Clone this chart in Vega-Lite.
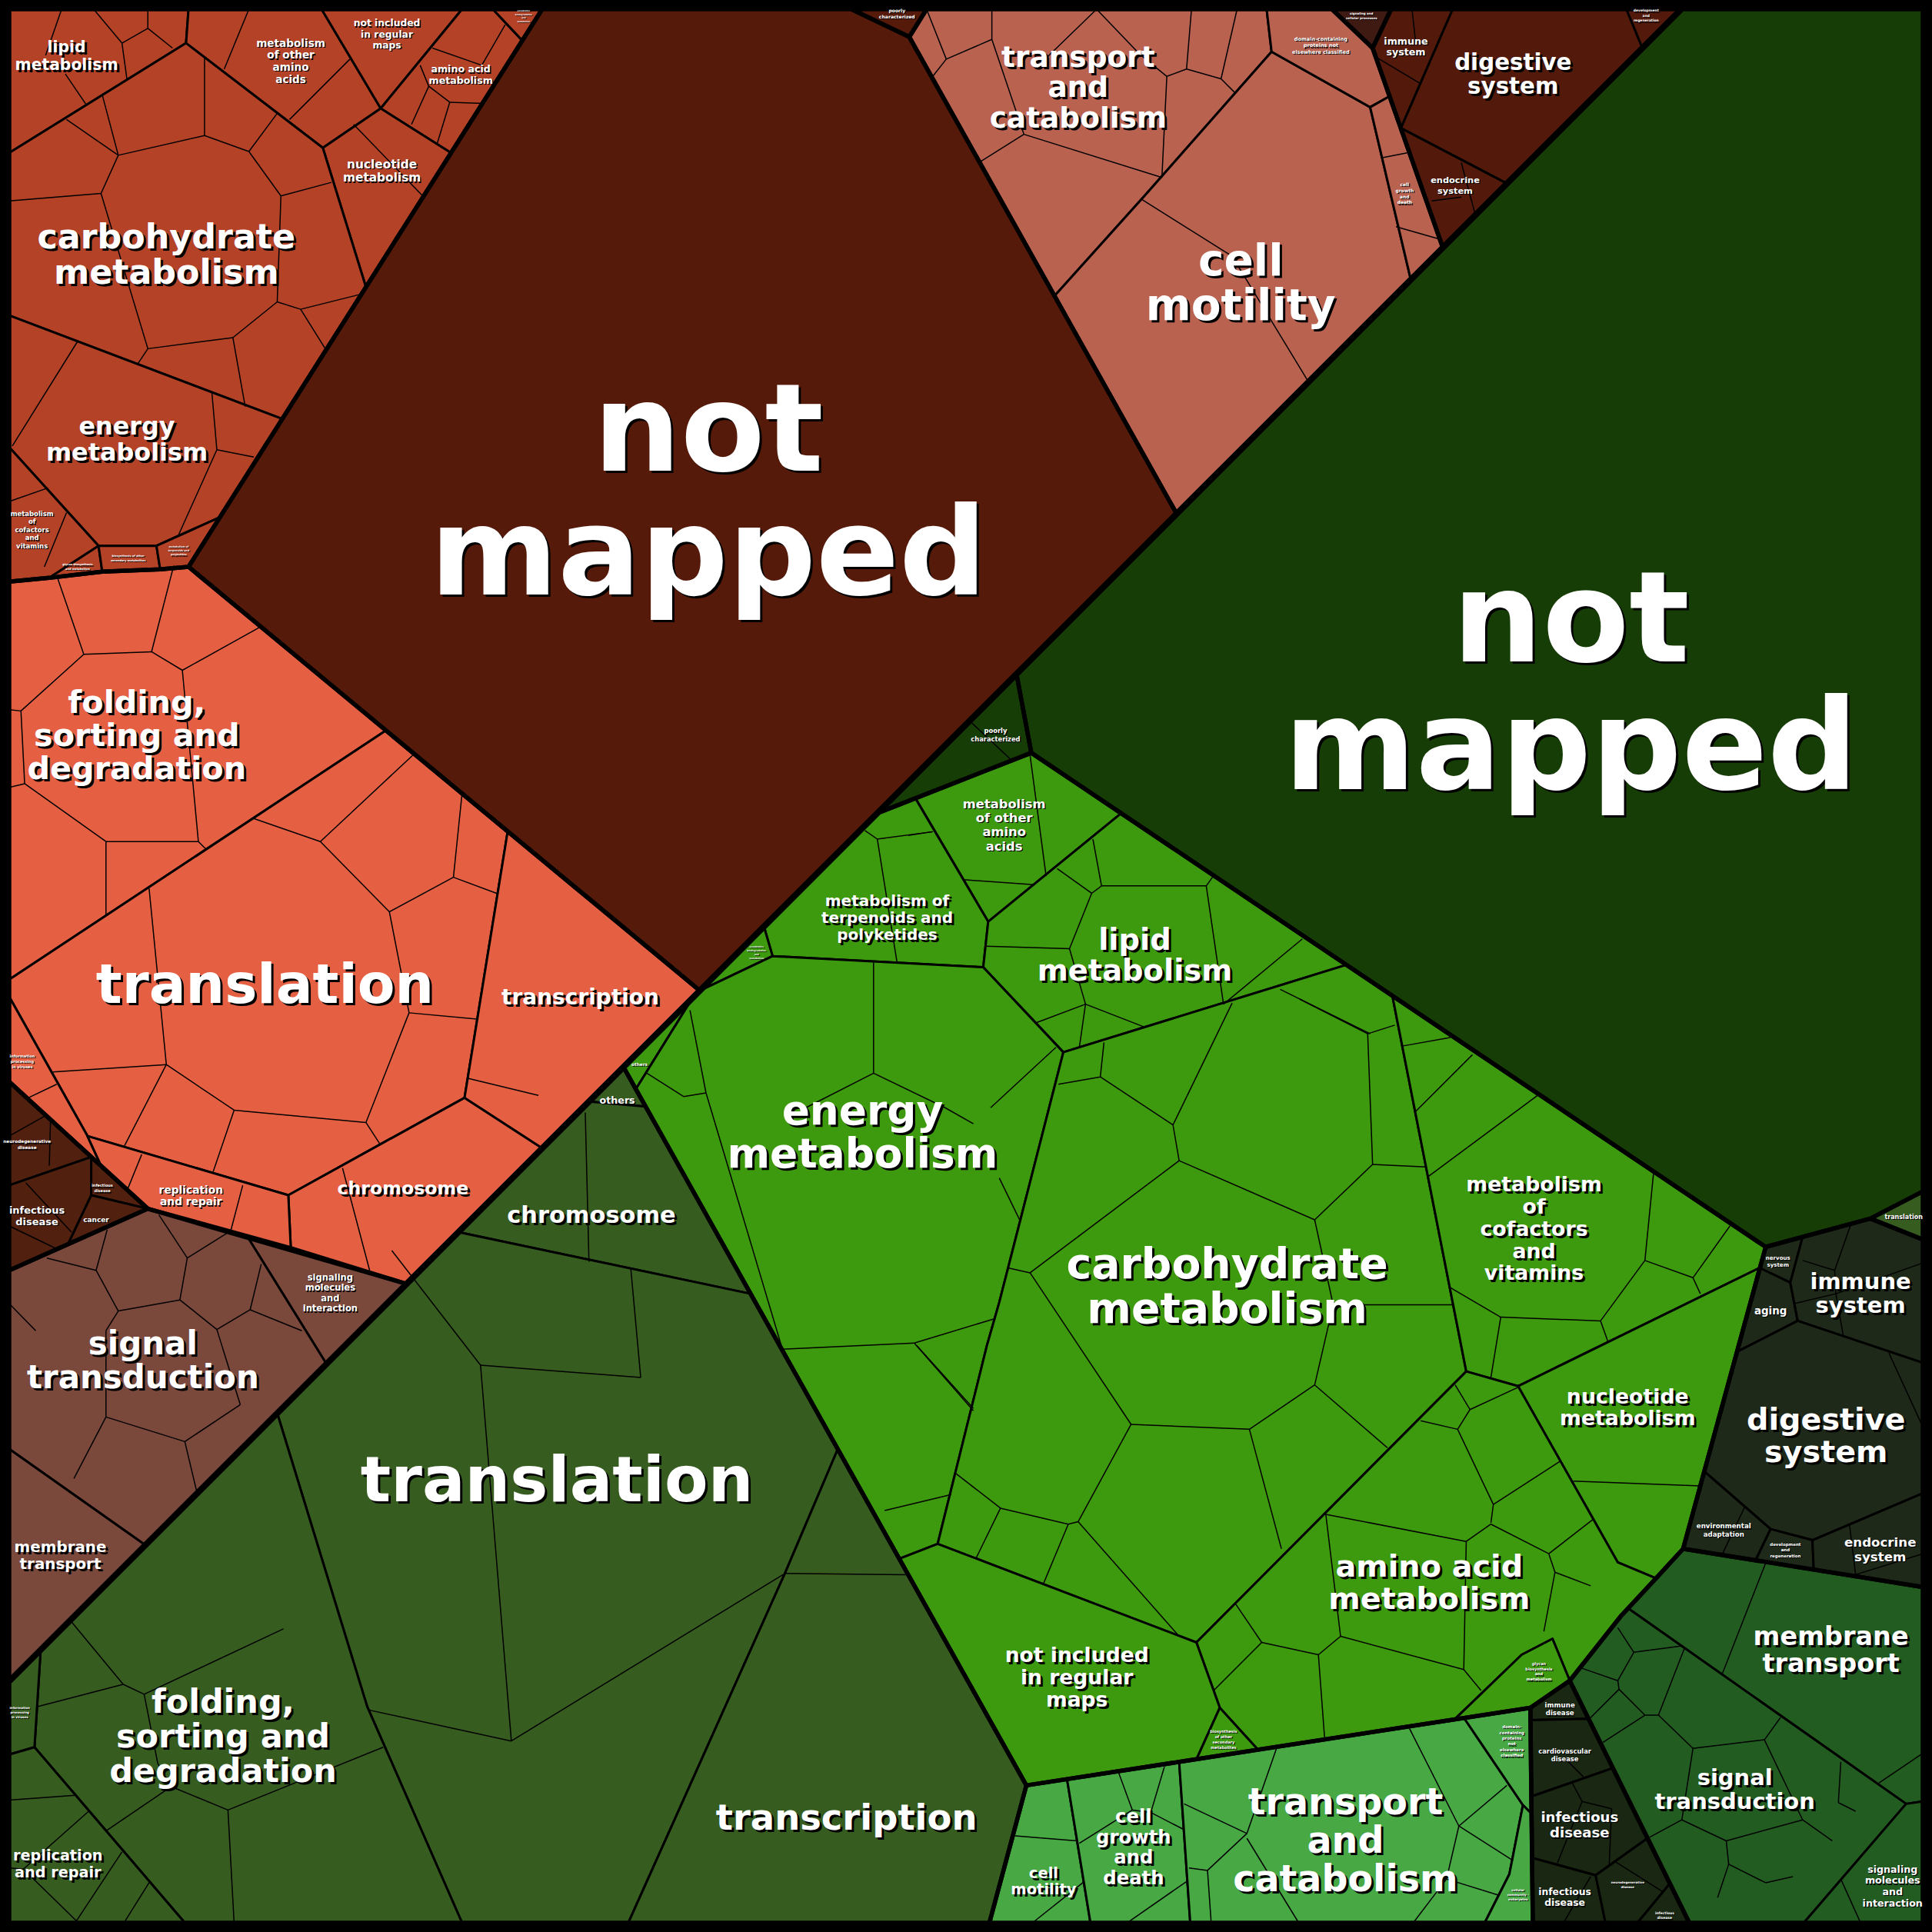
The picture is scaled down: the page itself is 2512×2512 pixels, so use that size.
{
"$schema":"https://vega.github.io/schema/vega-lite/v6.json",
"width":2512,"height":2512,
"autosize":{"type":"fit","contains":"padding"},
"padding":0,
"background":"#000000",
"config":{"view":{"stroke":null}},
"datasets":{
"cells":[
{"id":"a_lipid","group":"A metabolism","x":[7.5,153,151,7.5],"y":[7.5,7.5,35,124]},
{"id":"a_oaa","group":"A metabolism","x":[153,261,309,262,151],"y":[7.5,7.5,88,120,35]},
{"id":"a_notinc","group":"A metabolism","x":[261,375,309],"y":[7.5,7.5,88]},
{"id":"a_aa","group":"A metabolism","x":[375,400,424,366,309],"y":[7.5,7.5,33,124,88]},
{"id":"a_xeno","group":"A metabolism","x":[400,440,424],"y":[7.5,7.5,33]},
{"id":"a_nucl","group":"A metabolism","x":[262,309,366,297],"y":[120,88,124,233]},
{"id":"a_carb","group":"A metabolism","x":[7.5,151,262,297,229,7.5],"y":[124,35,120,233,340,256]},
{"id":"a_energy","group":"A metabolism","x":[7.5,229,178,127,80,7.5],"y":[256,340,420,443,443,363]},
{"id":"a_cof","group":"A metabolism","x":[7.5,80,40,7.5],"y":[363,443,469,472]},
{"id":"a_glycan","group":"A metabolism","x":[40,80,83],"y":[469,443,464]},
{"id":"a_sec","group":"A metabolism","x":[80,127,130,83],"y":[443,443,462,464]},
{"id":"a_terp","group":"A metabolism","x":[127,178,153,130],"y":[443,420,460,462]},
{"id":"a_notmapped","group":"A not mapped","x":[440,691,738,955,568,153],"y":[7.5,7.5,30,417,804,460]},
{"id":"a_poor","group":"A poorly characterized","x":[691,752,738],"y":[7.5,7.5,30]},
{"id":"a_transport","group":"A cellular processes","x":[752,1028,1032,928,856,738],"y":[7.5,7.5,42,160,240,30]},
{"id":"a_motility","group":"A cellular processes","x":[1032,1112,1145,955,856,928],"y":[42,87,227,417,240,160]},
{"id":"a_domain","group":"A cellular processes","x":[1028,1081,1114,1128,1112,1032],"y":[7.5,7.5,39,78,87,42]},
{"id":"a_growth","group":"A cellular processes","x":[1112,1128,1171,1145],"y":[87,78,201,227]},
{"id":"a_sig","group":"A signaling and cellular processes","x":[1081,1129,1114],"y":[7.5,7.5,39]},
{"id":"a_immune","group":"A organismal systems","x":[1114,1129,1179,1137],"y":[39,7.5,7.5,104]},
{"id":"a_digest","group":"A organismal systems","x":[1179,1320,1333,1223,1137],"y":[7.5,7.5,39,149,104]},
{"id":"a_dev","group":"A organismal systems","x":[1320,1364.5,1333],"y":[7.5,7.5,39]},
{"id":"a_endo","group":"A organismal systems","x":[1137,1223,1171],"y":[104,149,201]},
{"id":"a_fold","group":"A genetic information processing","x":[7.5,40,83,130,153,313,7.5],"y":[472,469,464,462,460,593,795]},
{"id":"a_transl","group":"A genetic information processing","x":[7.5,313,412,377,234,71,7.5],"y":[795,593,675,891,970,922,809]},
{"id":"a_viruses","group":"A genetic information processing","x":[7.5,71,82,7.5],"y":[809,922,946,878]},
{"id":"a_transc","group":"A genetic information processing","x":[412,568,440,377],"y":[675,804,932,891]},
{"id":"a_chrom","group":"A genetic information processing","x":[234,377,440,330,236],"y":[970,891,932,1042,1013]},
{"id":"a_repl","group":"A genetic information processing","x":[71,234,236,120,82],"y":[922,970,1013,981,946]},
{"id":"a_neuro","group":"A human diseases","x":[7.5,74,7.5],"y":[878,939,962]},
{"id":"a_inf_s","group":"A human diseases","x":[74,120,74],"y":[939,981,970]},
{"id":"a_cancer","group":"A human diseases","x":[74,120,55],"y":[970,981,1010]},
{"id":"a_inf","group":"A human diseases","x":[7.5,74,74,55,7.5],"y":[962,939,970,1010,1031]},
{"id":"a_sigmol","group":"A environmental information processing","x":[201,330,265],"y":[1004,1042,1107]},
{"id":"a_signal","group":"A environmental information processing","x":[7.5,120,201,265,118,7.5],"y":[1031,981,1004,1107,1254,1176]},
{"id":"a_membrane","group":"A environmental information processing","x":[7.5,118,7.5],"y":[1176,1254,1364.5]},
{"id":"b_notmapped","group":"B not mapped","x":[1364.5,1560.5,1560.5,1518,1433,837,825],"y":[7.5,7.5,967,989,1012,611,547]},
{"id":"b_poor","group":"B poorly characterized","x":[825,837,712],"y":[547,611,660]},
{"id":"b_transl_s","group":"B genetic information processing","x":[1518,1560.5,1560.5],"y":[989,967,1006]},
{"id":"b_oaa","group":"B metabolism","x":[743,837,910,802],"y":[648,611,660,748]},
{"id":"b_terp","group":"B metabolism","x":[712,743,802,798,627,620],"y":[660,648,748,785,776,752]},
{"id":"b_xeno","group":"B metabolism","x":[620,627,568],"y":[752,776,804]},
{"id":"b_others","group":"B metabolism","x":[562,506,516],"y":[810,866,884]},
{"id":"b_lipid","group":"B metabolism","x":[802,910,1093,863,798],"y":[748,660,783,854,785]},
{"id":"b_energy","group":"B metabolism","x":[568,627,798,863,811,801,761,730,516,562],"y":[804,776,785,854,1057,1092,1253,1265,884,810]},
{"id":"b_carb","group":"B metabolism","x":[863,1093,1130,1190,971,761,801,811],"y":[854,783,808,1113,1333,1253,1092,1057]},
{"id":"b_cof","group":"B metabolism","x":[1130,1433,1428,1232,1190],"y":[808,1012,1029,1125,1113]},
{"id":"b_nucl","group":"B metabolism","x":[1232,1428,1366,1344,1313],"y":[1125,1029,1257,1281,1268]},
{"id":"b_aa","group":"B metabolism","x":[971,1190,1232,1313,1344,1316,1274,1260,1235,1180,1021,990],"y":[1333,1113,1125,1268,1281,1311,1364,1330,1343,1396,1420,1386]},
{"id":"b_notinc","group":"B metabolism","x":[730,761,971,990,971,833],"y":[1265,1253,1333,1386,1428,1449]},
{"id":"b_sec","group":"B metabolism","x":[990,1021,971],"y":[1386,1420,1428]},
{"id":"b_glycan","group":"B metabolism","x":[1235,1260,1274,1242,1180],"y":[1343,1330,1364,1386,1396]},
{"id":"b_others_o","group":"B genetic information processing","x":[478,506,524],"y":[894,866,898]},
{"id":"b_chrom","group":"B genetic information processing","x":[478,524,609,372],"y":[894,898,1050,1000]},
{"id":"b_transl","group":"B genetic information processing","x":[372,609,680,637,510,375,298,225],"y":[1000,1050,1176,1277,1560.5,1560.5,1385,1147]},
{"id":"b_transc","group":"B genetic information processing","x":[680,833,803,510,637],"y":[1176,1449,1560.5,1560.5,1277]},
{"id":"b_fold","group":"B genetic information processing","x":[33,225,298,375,150,28],"y":[1339,1147,1385,1560.5,1560.5,1418]},
{"id":"b_viruses","group":"B genetic information processing","x":[7.5,33,28,7.5],"y":[1364.5,1339,1418,1424]},
{"id":"b_repl","group":"B genetic information processing","x":[7.5,28,150,7.5],"y":[1424,1418,1560.5,1560.5]},
{"id":"b_motility","group":"B cellular processes","x":[833,866,885,803],"y":[1449,1444,1560.5,1560.5]},
{"id":"b_growth","group":"B cellular processes","x":[866,957,966,885],"y":[1444,1430,1560.5,1560.5]},
{"id":"b_transport","group":"B cellular processes","x":[957,1188,1236,1225,1205,966],"y":[1430,1394,1465,1521,1560.5,1560.5]},
{"id":"b_domain","group":"B cellular processes","x":[1188,1242,1243,1236],"y":[1394,1386,1472,1465]},
{"id":"b_community","group":"B cellular processes","x":[1236,1243,1244,1205,1225],"y":[1465,1472,1560.5,1560.5,1521]},
{"id":"b_immune_d","group":"B human diseases","x":[1242,1274,1289,1243],"y":[1386,1364,1395,1396]},
{"id":"b_cardio","group":"B human diseases","x":[1243,1289,1309,1243],"y":[1396,1395,1435,1458]},
{"id":"b_inf1","group":"B human diseases","x":[1243,1309,1337,1295,1244],"y":[1458,1435,1492,1522,1508]},
{"id":"b_inf2","group":"B human diseases","x":[1244,1295,1303,1244],"y":[1508,1522,1560.5,1560.5]},
{"id":"b_neuro","group":"B human diseases","x":[1295,1337,1355,1329,1303],"y":[1522,1492,1529,1560.5,1560.5]},
{"id":"b_inf3","group":"B human diseases","x":[1355,1371,1329],"y":[1529,1560.5,1560.5]},
{"id":"b_nervous","group":"B organismal systems","x":[1433,1463,1453,1428],"y":[1012,1004,1041,1029]},
{"id":"b_aging","group":"B organismal systems","x":[1428,1453,1459,1410],"y":[1029,1041,1072,1097]},
{"id":"b_immune","group":"B organismal systems","x":[1463,1518,1560.5,1560.5,1459,1453],"y":[1004,989,1006,1106,1072,1041]},
{"id":"b_digest","group":"B organismal systems","x":[1410,1459,1560.5,1560.5,1471,1437,1383],"y":[1097,1072,1106,1212,1250,1241,1194]},
{"id":"b_envad","group":"B organismal systems","x":[1383,1437,1425,1366],"y":[1194,1241,1266,1257]},
{"id":"b_dev","group":"B organismal systems","x":[1437,1471,1472,1425],"y":[1241,1250,1274,1266]},
{"id":"b_endo","group":"B organismal systems","x":[1471,1560.5,1560.5,1472],"y":[1250,1212,1288,1274]},
{"id":"b_membrane","group":"B environmental information processing","x":[1366,1560.5,1560.5,1547,1321,1344],"y":[1257,1288,1462,1464,1305,1281]},
{"id":"b_signal","group":"B environmental information processing","x":[1321,1547,1464,1371,1274,1316],"y":[1305,1464,1560.5,1560.5,1364,1311]},
{"id":"b_sigmol","group":"B environmental information processing","x":[1547,1560.5,1560.5,1464],"y":[1464,1462,1560.5,1560.5]}
],
"inner":[
{"x":76,"y":7.5,"x2":99,"y2":35},{"x":99,"y":35,"x2":120,"y2":23},{"x":120,"y":23,"x2":120,"y2":7.5},{"x":120,"y":23,"x2":140,"y2":39},{"x":99,"y":35,"x2":103,"y2":64},{"x":50,"y":7.5,"x2":37,"y2":45},{"x":53,"y":60,"x2":70,"y2":85},
{"x":83,"y":77,"x2":96,"y2":126},{"x":54,"y":97,"x2":96,"y2":126},{"x":96,"y":126,"x2":166,"y2":110},{"x":166,"y":110,"x2":166,"y2":47},{"x":96,"y":126,"x2":82,"y2":157},{"x":82,"y":157,"x2":7.5,"y2":163},{"x":82,"y":157,"x2":120,"y2":283},{"x":166,"y":110,"x2":202,"y2":123},{"x":202,"y":123,"x2":225,"y2":92},{"x":202,"y":123,"x2":228,"y2":159},{"x":228,"y":159,"x2":269,"y2":148},{"x":228,"y":159,"x2":225,"y2":245},{"x":225,"y":245,"x2":244,"y2":251},{"x":244,"y":251,"x2":292,"y2":239},{"x":244,"y":251,"x2":264,"y2":283},{"x":225,"y":245,"x2":189,"y2":274},{"x":189,"y":274,"x2":120,"y2":283},{"x":120,"y":283,"x2":112,"y2":295},{"x":189,"y":274,"x2":199,"y2":330},
{"x":182,"y":56,"x2":202,"y2":7.5},{"x":235,"y":97,"x2":284,"y2":48},{"x":287,"y":101,"x2":344,"y2":160},
{"x":351,"y":39,"x2":391,"y2":53},{"x":391,"y":53,"x2":410,"y2":20},{"x":348,"y":70,"x2":365,"y2":83},{"x":365,"y":83,"x2":393,"y2":84},{"x":365,"y":83,"x2":355,"y2":116},{"x":348,"y":70,"x2":334,"y2":101},{"x":341,"y":53,"x2":348,"y2":70},
{"x":63,"y":277,"x2":10,"y2":362},{"x":172,"y":319,"x2":176,"y2":365},{"x":176,"y":365,"x2":206,"y2":371},{"x":176,"y":365,"x2":145,"y2":434},{"x":7.5,"y":407,"x2":39,"y2":396},{"x":54,"y":416,"x2":36,"y2":460},
{"x":47,"y":470,"x2":68,"y2":531},{"x":68,"y":531,"x2":123,"y2":529},{"x":123,"y":529,"x2":141,"y2":459},{"x":123,"y":529,"x2":148,"y2":544},{"x":148,"y":544,"x2":211,"y2":509},{"x":148,"y":544,"x2":161,"y2":683},{"x":68,"y":531,"x2":17,"y2":577},{"x":17,"y":577,"x2":7.5,"y2":576},{"x":17,"y":577,"x2":20,"y2":636},{"x":20,"y":636,"x2":7.5,"y2":639},{"x":20,"y":636,"x2":86,"y2":683},{"x":86,"y":683,"x2":161,"y2":683},{"x":86,"y":683,"x2":86,"y2":743},{"x":161,"y":683,"x2":167,"y2":689},
{"x":205,"y":664,"x2":260,"y2":683},{"x":260,"y":683,"x2":336,"y2":612},{"x":260,"y":683,"x2":316,"y2":740},{"x":316,"y":740,"x2":368,"y2":712},{"x":368,"y":712,"x2":375,"y2":644},{"x":368,"y":712,"x2":403,"y2":725},{"x":316,"y":740,"x2":332,"y2":822},{"x":332,"y":822,"x2":387,"y2":827},{"x":332,"y":822,"x2":297,"y2":911},{"x":121,"y":721,"x2":135,"y2":864},{"x":135,"y":864,"x2":43,"y2":870},{"x":135,"y":864,"x2":190,"y2":901},{"x":135,"y":864,"x2":101,"y2":930},{"x":379,"y":875,"x2":437,"y2":889},
{"x":190,"y":901,"x2":297,"y2":911},{"x":297,"y":911,"x2":308,"y2":928},{"x":190,"y":901,"x2":173,"y2":951},{"x":278,"y":948,"x2":300,"y2":1031},{"x":115,"y":937,"x2":104,"y2":964},{"x":197,"y":962,"x2":187,"y2":1000},{"x":23,"y":891,"x2":46,"y2":880},
{"x":7.5,"y":922,"x2":36,"y2":906},{"x":41,"y":909,"x2":40,"y2":946},{"x":21,"y":960,"x2":58,"y2":1000},{"x":7.5,"y":995,"x2":47,"y2":1014},
{"x":38,"y":1021,"x2":78,"y2":1031},{"x":78,"y":1031,"x2":87,"y2":998},{"x":78,"y":1031,"x2":96,"y2":1064},{"x":96,"y":1064,"x2":146,"y2":1055},{"x":146,"y":1055,"x2":152,"y2":1021},{"x":152,"y":1021,"x2":129,"y2":986},{"x":152,"y":1021,"x2":184,"y2":1001},{"x":146,"y":1055,"x2":176,"y2":1079},{"x":203,"y":1063,"x2":212,"y2":1026},{"x":203,"y":1063,"x2":245,"y2":1080},{"x":203,"y":1063,"x2":176,"y2":1079},{"x":96,"y":1064,"x2":86,"y2":1080},{"x":7.5,"y":1058,"x2":29,"y2":1080},
{"x":176,"y":1079,"x2":195,"y2":1140},{"x":195,"y":1140,"x2":150,"y2":1170},{"x":150,"y":1170,"x2":86,"y2":1150},{"x":86,"y":1150,"x2":86,"y2":1080},{"x":86,"y":1150,"x2":60,"y2":1200},{"x":150,"y":1170,"x2":160,"y2":1212},
{"x":752,"y":7.5,"x2":768,"y2":48},{"x":768,"y":48,"x2":757,"y2":62},{"x":768,"y":48,"x2":805,"y2":32},{"x":805,"y":32,"x2":805,"y2":7.5},{"x":805,"y":32,"x2":831,"y2":109},{"x":831,"y":109,"x2":796,"y2":131},{"x":831,"y":109,"x2":943,"y2":144},{"x":890,"y":7.5,"x2":842,"y2":54},{"x":890,"y":7.5,"x2":925,"y2":44},{"x":925,"y":44,"x2":947,"y2":62},{"x":947,"y":62,"x2":963,"y2":56},{"x":963,"y":56,"x2":967,"y2":7.5},{"x":963,"y":56,"x2":991,"y2":64},{"x":991,"y":64,"x2":1004,"y2":7.5},{"x":991,"y":64,"x2":1002,"y2":75},{"x":947,"y":62,"x2":943,"y2":144},{"x":927,"y":162,"x2":1000,"y2":208},{"x":1000,"y":208,"x2":1062,"y2":310},{"x":1122,"y":128,"x2":1142,"y2":124},{"x":1133,"y":184,"x2":1168,"y2":194},
{"x":1146,"y":7.5,"x2":1149,"y2":35},{"x":1118,"y":47,"x2":1153,"y2":68},{"x":1186,"y":132,"x2":1197,"y2":173},{"x":1162,"y":163,"x2":1186,"y2":160},
{"x":789,"y":587,"x2":821,"y2":617},
{"x":836,"y":613,"x2":849,"y2":711},{"x":737,"y":678,"x2":757,"y2":675},{"x":782,"y":714,"x2":839,"y2":718},{"x":887,"y":681,"x2":894,"y2":719},{"x":858,"y":705,"x2":886,"y2":725},{"x":886,"y":725,"x2":894,"y2":719},{"x":894,"y":719,"x2":979,"y2":719},{"x":979,"y":719,"x2":984,"y2":712},{"x":979,"y":719,"x2":993,"y2":815},{"x":993,"y":815,"x2":1057,"y2":762},{"x":886,"y":725,"x2":868,"y2":770},{"x":868,"y":770,"x2":800,"y2":768},{"x":868,"y":770,"x2":881,"y2":815},{"x":881,"y":815,"x2":841,"y2":830},{"x":881,"y":815,"x2":930,"y2":834},{"x":881,"y":815,"x2":876,"y2":850},
{"x":1039,"y":803,"x2":1112,"y2":839},{"x":896,"y":846,"x2":893,"y2":874},{"x":893,"y":874,"x2":859,"y2":880},{"x":893,"y":874,"x2":952,"y2":913},{"x":952,"y":913,"x2":1000,"y2":814},{"x":857,"y":850,"x2":804,"y2":899},
{"x":952,"y":913,"x2":957,"y2":942},{"x":957,"y":942,"x2":836,"y2":1033},{"x":957,"y":942,"x2":1067,"y2":990},{"x":1067,"y":990,"x2":1114,"y2":945},{"x":1114,"y":945,"x2":1157,"y2":947},{"x":1114,"y":945,"x2":1110,"y2":839},{"x":1110,"y":839,"x2":1055,"y2":811},{"x":1110,"y":839,"x2":1132,"y2":832},{"x":1067,"y":990,"x2":1082,"y2":1059},{"x":1082,"y":1059,"x2":1179,"y2":1059},{"x":1082,"y":1059,"x2":1067,"y2":1124},{"x":1067,"y":1124,"x2":1126,"y2":1175},{"x":1067,"y":1124,"x2":1014,"y2":1160},{"x":1014,"y":1160,"x2":918,"y2":1156},{"x":918,"y":1156,"x2":836,"y2":1033},{"x":836,"y":1033,"x2":818,"y2":1029},{"x":918,"y":1156,"x2":875,"y2":1235},{"x":1014,"y":1160,"x2":1040,"y2":1257},{"x":811,"y":956,"x2":828,"y2":991},
{"x":875,"y":1235,"x2":867,"y2":1237},{"x":867,"y":1237,"x2":812,"y2":1224},{"x":812,"y":1224,"x2":776,"y2":1196},{"x":812,"y":1224,"x2":792,"y2":1265},{"x":867,"y":1237,"x2":847,"y2":1285},{"x":875,"y":1235,"x2":957,"y2":1328},{"x":718,"y":1226,"x2":772,"y2":1213},{"x":744,"y":1092,"x2":790,"y2":1143},
{"x":709,"y":781,"x2":709,"y2":871},{"x":709,"y":871,"x2":654,"y2":899},{"x":709,"y":871,"x2":767,"y2":899},{"x":702,"y":674,"x2":712,"y2":681},{"x":712,"y":681,"x2":757,"y2":675},{"x":712,"y":681,"x2":728,"y2":781},{"x":560,"y":820,"x2":573,"y2":887},{"x":573,"y":887,"x2":555,"y2":890},{"x":555,"y":890,"x2":525,"y2":871},
{"x":573,"y":887,"x2":635,"y2":1095},{"x":635,"y":1095,"x2":742,"y2":1090},{"x":742,"y":1090,"x2":790,"y2":1145},{"x":742,"y":1090,"x2":808,"y2":1070},{"x":767,"y":899,"x2":790,"y2":912},
{"x":1138,"y":849,"x2":1177,"y2":842},{"x":1149,"y":902,"x2":1195,"y2":856},{"x":1159,"y":955,"x2":1248,"y2":889},{"x":1177,"y":1045,"x2":1218,"y2":1069},{"x":1218,"y":1069,"x2":1299,"y2":1072},{"x":1218,"y":1069,"x2":1210,"y2":1118},{"x":1299,"y":1072,"x2":1335,"y2":1023},{"x":1335,"y":1023,"x2":1342,"y2":952},{"x":1335,"y":1023,"x2":1374,"y2":1037},{"x":1374,"y":1037,"x2":1404,"y2":995},{"x":1374,"y":1037,"x2":1380,"y2":1050},{"x":1299,"y":1072,"x2":1305,"y2":1089},
{"x":1193,"y":1144,"x2":1232,"y2":1126},{"x":1193,"y":1144,"x2":1181,"y2":1124},{"x":1193,"y":1144,"x2":1183,"y2":1160},{"x":1183,"y":1160,"x2":1153,"y2":1153},{"x":1183,"y":1160,"x2":1212,"y2":1221},{"x":1212,"y":1221,"x2":1266,"y2":1186},{"x":1212,"y":1221,"x2":1210,"y2":1236},{"x":1277,"y":1202,"x2":1380,"y2":1206},
{"x":1210,"y":1237,"x2":1190,"y2":1251},{"x":1190,"y":1251,"x2":1076,"y2":1229},{"x":1210,"y":1237,"x2":1257,"y2":1261},{"x":1257,"y":1261,"x2":1293,"y2":1233},{"x":1257,"y":1261,"x2":1262,"y2":1276},{"x":1262,"y":1276,"x2":1291,"y2":1287},{"x":1262,"y":1276,"x2":1253,"y2":1324},{"x":1190,"y":1251,"x2":1188,"y2":1355},{"x":1188,"y":1355,"x2":1088,"y2":1328},{"x":1088,"y":1328,"x2":1076,"y2":1229},{"x":1088,"y":1328,"x2":1070,"y2":1343},{"x":1070,"y":1343,"x2":1024,"y2":1333},{"x":1024,"y":1333,"x2":1003,"y2":1302},{"x":1024,"y":1333,"x2":985,"y2":1372},{"x":1070,"y":1343,"x2":1075,"y2":1410},{"x":1188,"y":1355,"x2":1202,"y2":1372},
{"x":475,"y":903,"x2":478,"y2":1024},{"x":318,"y":1015,"x2":390,"y2":1108},{"x":390,"y":1108,"x2":520,"y2":1118},{"x":520,"y":1118,"x2":512,"y2":1030},{"x":390,"y":1108,"x2":415,"y2":1413},{"x":415,"y":1413,"x2":300,"y2":1388},{"x":415,"y":1413,"x2":637,"y2":1277},{"x":637,"y":1277,"x2":735,"y2":1278},
{"x":31,"y":1385,"x2":100,"y2":1367},{"x":100,"y":1367,"x2":57,"y2":1315},{"x":100,"y":1367,"x2":117,"y2":1375},{"x":117,"y":1375,"x2":230,"y2":1322},{"x":117,"y":1375,"x2":128,"y2":1431},{"x":128,"y":1431,"x2":139,"y2":1450},{"x":139,"y":1450,"x2":185,"y2":1469},{"x":185,"y":1469,"x2":190,"y2":1560.5},{"x":185,"y":1469,"x2":311,"y2":1418},{"x":139,"y":1450,"x2":86,"y2":1486},{"x":7.5,"y":1461,"x2":61,"y2":1457},{"x":72,"y":1470,"x2":19,"y2":1517},{"x":99,"y":1503,"x2":62,"y2":1559},{"x":19,"y":1517,"x2":62,"y2":1559},{"x":121,"y":1528,"x2":101,"y2":1560},{"x":7.5,"y":1516,"x2":19,"y2":1517},
{"x":824,"y":1490,"x2":874,"y2":1494},{"x":838,"y":1560.5,"x2":880,"y2":1527},{"x":876,"y":1496,"x2":919,"y2":1469},{"x":908,"y":1439,"x2":919,"y2":1469},{"x":919,"y":1469,"x2":934,"y2":1471},{"x":934,"y":1471,"x2":945,"y2":1434},{"x":934,"y":1471,"x2":961,"y2":1485},{"x":915,"y":1560.5,"x2":963,"y2":1527},{"x":961,"y":1464,"x2":1012,"y2":1488},{"x":1012,"y":1488,"x2":1036,"y2":1419},{"x":1012,"y":1488,"x2":980,"y2":1518},{"x":980,"y":1518,"x2":965,"y2":1516},{"x":980,"y":1518,"x2":983,"y2":1560.5},{"x":1012,"y":1492,"x2":1054,"y2":1560.5},{"x":1144,"y":1403,"x2":1184,"y2":1482},{"x":1184,"y":1482,"x2":1223,"y2":1449},{"x":1184,"y":1482,"x2":1174,"y2":1525},{"x":1174,"y":1525,"x2":1216,"y2":1538},{"x":1174,"y":1525,"x2":1147,"y2":1560.5},{"x":1184,"y":1482,"x2":1228,"y2":1510},
{"x":1270,"y":1427,"x2":1285,"y2":1442},{"x":1276,"y":1447,"x2":1284,"y2":1462},{"x":1284,"y":1462,"x2":1308,"y2":1468},{"x":1284,"y":1462,"x2":1264,"y2":1512},{"x":1308,"y":1468,"x2":1306,"y2":1514},{"x":1311,"y":1511,"x2":1349,"y2":1535},{"x":1291,"y":1523,"x2":1269,"y2":1560.5},
{"x":1313,"y":1321,"x2":1326,"y2":1341},{"x":1326,"y":1341,"x2":1364,"y2":1336},{"x":1326,"y":1341,"x2":1313,"y2":1364},{"x":1313,"y":1364,"x2":1284,"y2":1354},{"x":1313,"y":1364,"x2":1314,"y2":1371},{"x":1314,"y":1371,"x2":1291,"y2":1394},{"x":1314,"y":1371,"x2":1335,"y2":1392},{"x":1335,"y":1392,"x2":1346,"y2":1392},{"x":1346,"y":1392,"x2":1367,"y2":1338},{"x":1346,"y":1392,"x2":1374,"y2":1419},{"x":1335,"y":1392,"x2":1301,"y2":1414},{"x":1374,"y":1419,"x2":1432,"y2":1412},{"x":1432,"y":1412,"x2":1445,"y2":1394},{"x":1374,"y":1419,"x2":1365,"y2":1477},{"x":1365,"y":1477,"x2":1339,"y2":1491},{"x":1365,"y":1477,"x2":1401,"y2":1494},{"x":1401,"y":1494,"x2":1463,"y2":1477},{"x":1401,"y":1494,"x2":1403,"y2":1513},{"x":1403,"y":1513,"x2":1433,"y2":1528},{"x":1403,"y":1513,"x2":1394,"y2":1540},{"x":1433,"y":1528,"x2":1455,"y2":1523},{"x":1494,"y":1430,"x2":1492,"y2":1463},{"x":1492,"y":1463,"x2":1506,"y2":1470},{"x":1463,"y":1477,"x2":1487,"y2":1494},{"x":1398,"y":1358,"x2":1434,"y2":1266},{"x":1525,"y":1447,"x2":1560.5,"y2":1423},{"x":1494,"y":1525,"x2":1510,"y2":1560.5},{"x":1432,"y":1412,"x2":1463,"y2":1477},
{"x":1463,"y":1023,"x2":1489,"y2":1031},{"x":1489,"y":1031,"x2":1502,"y2":994},{"x":1489,"y":1031,"x2":1490,"y2":1050},{"x":1456,"y":1058,"x2":1490,"y2":1050},{"x":1490,"y":1050,"x2":1496,"y2":1084},{"x":1490,"y":1050,"x2":1560.5,"y2":1025},{"x":1533,"y":1098,"x2":1560.5,"y2":1158},{"x":1416,"y":1223,"x2":1398,"y2":1261},{"x":1501,"y":1237,"x2":1506,"y2":1278},{"x":1506,"y":1278,"x2":1560.5,"y2":1261}
],
"clusters":[
{"id":"A met","x":[7.5,440,153,130,83,40,7.5],"y":[7.5,7.5,460,462,464,469,472]},
{"id":"A nm","x":[440,691,738,955,568,153],"y":[7.5,7.5,30,417,804,460]},
{"id":"A poor","x":[691,752,738],"y":[7.5,7.5,30]},
{"id":"A cell","x":[752,1081,1114,1171,955,738],"y":[7.5,7.5,39,201,417,30]},
{"id":"A sig","x":[1081,1129,1114],"y":[7.5,7.5,39]},
{"id":"A org","x":[1129,1364.5,1171,1114],"y":[7.5,7.5,201,39]},
{"id":"A gen","x":[7.5,40,83,130,153,568,330,236,120,7.5],"y":[472,469,464,462,460,804,1042,1013,981,878]},
{"id":"A dis","x":[7.5,120,7.5],"y":[878,981,1031]},
{"id":"A env","x":[7.5,120,330,7.5],"y":[1031,981,1042,1364.5]},
{"id":"B nm","x":[1364.5,1560.5,1560.5,1518,1433,837,825],"y":[7.5,7.5,967,989,1012,611,547]},
{"id":"B poor","x":[825,837,712],"y":[547,611,660]},
{"id":"B tr","x":[1518,1560.5,1560.5],"y":[989,967,1006]},
{"id":"B met","x":[506,712,837,1433,1366,1344,1316,1274,1242,833],"y":[866,660,611,1012,1257,1281,1311,1364,1386,1449]},
{"id":"B gen","x":[7.5,506,833,803,7.5],"y":[1364.5,866,1449,1560.5,1560.5]},
{"id":"B cell","x":[833,1242,1244,803],"y":[1449,1386,1560.5,1560.5]},
{"id":"B dis","x":[1242,1274,1371,1244],"y":[1386,1364,1560.5,1560.5]},
{"id":"B org","x":[1433,1518,1560.5,1560.5,1366],"y":[1012,989,1006,1288,1257]},
{"id":"B env","x":[1366,1560.5,1560.5,1371,1274,1316,1344],"y":[1257,1288,1560.5,1560.5,1364,1311,1281]}
],
"divide":[{"x":1364.5,"y":7.5,"x2":7.5,"y2":1364.5}],
"labels":[
{"label":"not\nmapped","x":575,"y":352,"weight":99.5},
{"label":"carbohydrate\nmetabolism","x":135,"y":193.5,"weight":27.7},
{"label":"energy\nmetabolism","x":103,"y":346.4,"weight":19.9},
{"label":"lipid\nmetabolism","x":54,"y":39,"weight":12.7},
{"label":"metabolism\nof other\namino\nacids","x":236,"y":35.4,"weight":8.5},
{"label":"not included\nin regular\nmaps","x":314,"y":19,"weight":7.7},
{"label":"amino acid\nmetabolism","x":374,"y":56.4,"weight":7.9},
{"label":"nucleotide\nmetabolism","x":310,"y":133.6,"weight":9.6},
{"label":"metabolism\nof\ncofactors\nand\nvitamins","x":26,"y":416.9,"weight":5.3},
{"label":"glycan biosynthesis\nand metabolism","x":63,"y":458.3,"weight":2.2},
{"label":"biosynthesis of other\nsecondary metabolites","x":104,"y":451.3,"weight":2.2},
{"label":"metabolism of\nterpenoids and\npolyketides","x":145,"y":443.8,"weight":2.0},
{"label":"xenobiotics\nbiodegradation\nand\nmetabolism","x":425,"y":8.7,"weight":1.6},
{"label":"poorly\ncharacterized","x":728,"y":8.5,"weight":3.8},
{"label":"transport\nand\ncatabolism","x":875,"y":47.4,"weight":23.4},
{"label":"cell\nmotility","x":1007,"y":212.7,"weight":35.3},
{"label":"domain-containing\nproteins not\nelsewhere classified","x":1072,"y":31.7,"weight":4.1},
{"label":"cell\ngrowth\nand\ndeath","x":1140,"y":149.6,"weight":3.7},
{"label":"signaling and\ncellular processes","x":1105,"y":11.1,"weight":2.5},
{"label":"immune\nsystem","x":1141,"y":33.4,"weight":7.9},
{"label":"digestive\nsystem","x":1228,"y":51.2,"weight":18.3},
{"label":"endocrine\nsystem","x":1181,"y":146.8,"weight":7.1},
{"label":"development\nand\nregeneration","x":1336,"y":9,"weight":2.8},
{"label":"folding,\nsorting and\ndegradation","x":111,"y":571,"weight":25.8},
{"label":"translation","x":215,"y":801,"weight":44.3},
{"label":"transcription","x":471,"y":810,"weight":17.5},
{"label":"chromosome","x":327,"y":965,"weight":14.8},
{"label":"replication\nand repair","x":155,"y":966.1,"weight":8.6},
{"label":"information\nprocessing\nin viruses","x":18,"y":857.7,"weight":3.1},
{"label":"neurodegenerative\ndisease","x":22,"y":926.6,"weight":3.6},
{"label":"infectious\ndisease","x":83,"y":962.8,"weight":3.1},
{"label":"infectious\ndisease","x":30,"y":982.3,"weight":8.1},
{"label":"cancer","x":78,"y":990,"weight":5.6},
{"label":"signal\ntransduction","x":116,"y":1091.3,"weight":26.2},
{"label":"signaling\nmolecules\nand\ninteraction","x":268,"y":1037.3,"weight":7.2},
{"label":"membrane\ntransport","x":49,"y":1256.2,"weight":12.4},
{"label":"not\nmapped","x":1275,"y":506.4,"weight":102.5},
{"label":"poorly\ncharacterized","x":808,"y":593.8,"weight":5.2},
{"label":"metabolism\nof other\namino\nacids","x":815,"y":652.8,"weight":10.2},
{"label":"metabolism of\nterpenoids and\npolyketides","x":720,"y":731.3,"weight":12.5},
{"label":"lipid\nmetabolism","x":921,"y":763.4,"weight":24},
{"label":"energy\nmetabolism","x":700,"y":902.7,"weight":33.3},
{"label":"carbohydrate\nmetabolism","x":996,"y":1027.1,"weight":34.5},
{"label":"metabolism\nof\ncofactors\nand\nvitamins","x":1245,"y":962.1,"weight":16.7},
{"label":"nucleotide\nmetabolism","x":1321,"y":1134,"weight":16.7},
{"label":"amino acid\nmetabolism","x":1160,"y":1272,"weight":24.8},
{"label":"not included\nin regular\nmaps","x":874,"y":1344.2,"weight":16.6},
{"label":"biosynthesis\nof other\nsecondary\nmetabolites","x":993,"y":1405.5,"weight":3.1},
{"label":"glycan\nbiosynthesis\nand\nmetabolism","x":1249,"y":1350.5,"weight":3.1},
{"label":"xenobiotics\nbiodegradation\nand\nmetabolism","x":614,"y":768.4,"weight":1.8},
{"label":"others","x":519,"y":864,"weight":3.6},
{"label":"chromosome","x":480,"y":987,"weight":19},
{"label":"others","x":501,"y":893,"weight":7.9},
{"label":"translation","x":452,"y":1203,"weight":51.5},
{"label":"folding,\nsorting and\ndegradation","x":181,"y":1382,"weight":26.8},
{"label":"transcription","x":687,"y":1476,"weight":29},
{"label":"replication\nand repair","x":47,"y":1506.4,"weight":12},
{"label":"information\nprocessing\nin viruses","x":16,"y":1386.3,"weight":2.5},
{"label":"cell\nmotility","x":847,"y":1520.3,"weight":12.2},
{"label":"cell\ngrowth\nand\ndeath","x":920,"y":1475.3,"weight":15.2},
{"label":"transport\nand\ncatabolism","x":1092,"y":1464,"weight":29.7},
{"label":"domain-\ncontaining\nproteins\nnot\nelsewhere\nclassified","x":1227,"y":1401.4,"weight":3.4},
{"label":"cellular\ncommunity -\neukaryotes","x":1232,"y":1534.3,"weight":2.5},
{"label":"immune\ndisease","x":1266,"y":1383.7,"weight":5.4},
{"label":"cardiovascular\ndisease","x":1270,"y":1421.8,"weight":5.2},
{"label":"infectious\ndisease","x":1282,"y":1475.7,"weight":11.3},
{"label":"infectious\ndisease","x":1270,"y":1535.5,"weight":7.7},
{"label":"neurodegenerative\ndisease","x":1321,"y":1528.1,"weight":2.5},
{"label":"infectious\ndisease","x":1351,"y":1553,"weight":2.8},
{"label":"membrane\ntransport","x":1486,"y":1328.9,"weight":20.9},
{"label":"signal\ntransduction","x":1408,"y":1443.3,"weight":18.1},
{"label":"signaling\nmolecules\nand\ninteraction","x":1536,"y":1517.3,"weight":7.9},
{"label":"immune\nsystem","x":1510,"y":1040.3,"weight":18.1},
{"label":"digestive\nsystem","x":1482,"y":1153,"weight":24.8},
{"label":"endocrine\nsystem","x":1526,"y":1252.2,"weight":10.4},
{"label":"nervous\nsystem","x":1443,"y":1021.2,"weight":4.4},
{"label":"aging","x":1437,"y":1064,"weight":8.4},
{"label":"environmental\nadaptation","x":1399,"y":1238.7,"weight":5.4},
{"label":"development\nand\nregeneration","x":1449,"y":1253.4,"weight":3.4},
{"label":"translation","x":1545,"y":988,"weight":5}
]
},
"layer":[
{"data":{"name":"cells"},"transform":[{"flatten":["x","y"]}],
 "mark":{"type":"line","interpolate":"linear-closed","stroke":"#000000","strokeWidth":3,"strokeJoin":"round"},
 "encoding":{
  "x":{"field":"x","type":"quantitative","scale":{"domain":[0,1568],"nice":false,"zero":false},"axis":null},
  "y":{"field":"y","type":"quantitative","scale":{"domain":[0,1568],"nice":false,"zero":false,"reverse":true},"axis":null},
  "detail":{"field":"id"},
  "order":{"value":null},
  "fill":{"field":"group","type":"nominal","legend":null,"scale":{
   "domain":["A metabolism","A not mapped","A poorly characterized","A cellular processes","A signaling and cellular processes","A organismal systems","A genetic information processing","A human diseases","A environmental information processing","B not mapped","B poorly characterized","B metabolism","B genetic information processing","B cellular processes","B human diseases","B organismal systems","B environmental information processing"],
   "range":["#b34227","#561a0a","#561a0a","#b96250","#3f1a12","#531a0b","#e56043","#52200f","#7b483c","#173d07","#173d07","#3d9a0e","#365c1f","#47a844","#1a2713","#1f2919","#225c21"]}}
 }},
{"data":{"name":"inner"},"mark":{"type":"rule","stroke":"#000000","strokeWidth":1.5},
 "encoding":{"x":{"field":"x","type":"quantitative"},"y":{"field":"y","type":"quantitative"},"x2":{"field":"x2"},"y2":{"field":"y2"}}},
{"data":{"name":"clusters"},"transform":[{"flatten":["x","y"]}],
 "mark":{"type":"line","interpolate":"linear-closed","stroke":"#000000","strokeWidth":5.5,"strokeJoin":"round"},
 "encoding":{
  "x":{"field":"x","type":"quantitative"},
  "y":{"field":"y","type":"quantitative"},
  "detail":{"field":"id"},
  "order":{"value":null}
 }},
{"data":{"name":"divide"},"mark":{"type":"rule","stroke":"#000000","strokeWidth":8},
 "encoding":{"x":{"field":"x","type":"quantitative"},"y":{"field":"y","type":"quantitative"},"x2":{"field":"x2"},"y2":{"field":"y2"}}},
{"data":{"name":"labels"},"transform":[{"filter":"datum.weight >= 12"}],
 "mark":{"type":"text","font":"DejaVu Sans","fontWeight":"bold","align":"center","baseline":"middle","lineBreak":"\n","color":"#000000","dx":3,"dy":3},
 "encoding":{"x":{"field":"x","type":"quantitative"},"y":{"field":"y","type":"quantitative"},"text":{"field":"label"},
  "size":{"field":"weight","type":"quantitative","scale":{"type":"linear","domain":[0,100],"range":[0,160.2]},"legend":null}}},
{"data":{"name":"labels"},"transform":[{"filter":"datum.weight < 12"}],
 "mark":{"type":"text","font":"DejaVu Sans","fontWeight":"bold","align":"center","baseline":"middle","lineBreak":"\n","color":"#000000","dx":1.3,"dy":1.3},
 "encoding":{"x":{"field":"x","type":"quantitative"},"y":{"field":"y","type":"quantitative"},"text":{"field":"label"},
  "size":{"field":"weight","type":"quantitative","legend":null}}},
{"data":{"name":"labels"},
 "mark":{"type":"text","font":"DejaVu Sans","fontWeight":"bold","align":"center","baseline":"middle","lineBreak":"\n","color":"#ffffff"},
 "encoding":{"x":{"field":"x","type":"quantitative"},"y":{"field":"y","type":"quantitative"},"text":{"field":"label"},
  "size":{"field":"weight","type":"quantitative","legend":null}}}
]
}
